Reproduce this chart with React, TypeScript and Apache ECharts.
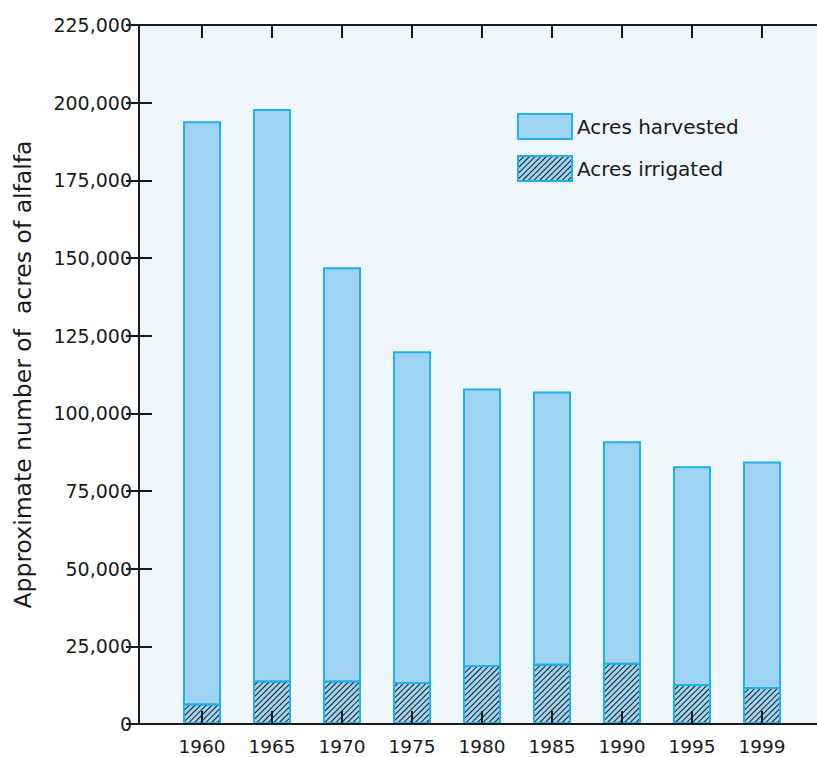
import React, { useEffect, useRef } from "react";
import * as echarts from "echarts";

const years = ["1960", "1965", "1970", "1975", "1980", "1985", "1990", "1995", "1999"];
const acresHarvested = [194000, 198000, 147000, 120000, 108000, 107000, 91000, 83000, 84500];
const acresIrrigated = [6600, 14000, 14000, 13500, 19000, 19400, 19700, 12900, 11900];
const yTicks = { min: 0, max: 225000, interval: 25000 };

const FONT = "DejaVu Sans, Liberation Sans, Arial, sans-serif";
const INK = "#1a1a1a";
const FILL = "#9FD3F3";
const EDGE = "#1DB2EA";

export default function App() {
  const ref = useRef<HTMLDivElement>(null);
  useEffect(() => {
    if (!ref.current) return;
    const chart = echarts.init(ref.current, undefined, { renderer: "svg" });
    const frameX = {
      type: "value",
      gridIndex: 0,
      min: 0,
      max: 1,
      axisLine: { show: true, onZero: false, lineStyle: { color: INK, width: 2 } },
      axisTick: { show: false },
      axisLabel: { show: false },
      splitLine: { show: false },
      z: 10,
    };
    const catX = {
      type: "category",
      gridIndex: 1,
      data: years,
      boundaryGap: true,
      axisLine: { show: false },
      axisTick: { show: true, inside: true, length: 13, alignWithLabel: true, lineStyle: { color: INK, width: 2 } },
      splitLine: { show: false },
      z: 10,
    };
    chart.setOption({
      animation: false,
      textStyle: { fontFamily: FONT },
      grid: [
        { left: 139, top: 25, right: -9, bottom: 33, show: true, backgroundColor: "#EEF5FC", borderWidth: 0, outerBoundsMode: "none" },
        { left: 167, top: 25, right: 20, bottom: 33, outerBoundsMode: "none" },
      ],
      legend: {
        left: 517,
        top: 113,
        orient: "vertical",
        itemWidth: 54,
        itemHeight: 25,
        itemGap: 15,
        padding: 0,
        icon: "rect",
        textStyle: { fontSize: 20, color: INK, fontFamily: FONT },
        data: ["Acres harvested", "Acres irrigated"],
      },
      xAxis: [
        { ...frameX, position: "bottom" },
        { ...frameX, position: "top" },
        { ...catX, position: "bottom", axisLabel: { show: true, fontSize: 18.5, color: INK, margin: 13, fontFamily: FONT } },
        { ...catX, position: "top", axisLabel: { show: false } },
      ],
      yAxis: [
        {
          type: "value",
          gridIndex: 0,
          position: "left",
          ...yTicks,
          axisLine: { show: true, lineStyle: { color: INK, width: 2 } },
          axisTick: { show: true, inside: true, length: 13, lineStyle: { color: INK, width: 2 } },
          axisLabel: {
            fontSize: 19,
            color: INK,
            margin: 7,
            fontFamily: FONT,
            formatter: (v: number) => v.toLocaleString("en-US"),
          },
          splitLine: { show: false },
          name: "Approximate number of  acres of alfalfa",
          nameLocation: "middle",
          nameGap: 104,
          nameTextStyle: { fontSize: 23.5, color: INK, fontFamily: FONT },
          z: 10,
        },
        {
          type: "value",
          gridIndex: 0,
          position: "right",
          ...yTicks,
          axisLine: { show: true, lineStyle: { color: INK, width: 2 } },
          axisTick: { show: true, inside: true, length: 13, lineStyle: { color: INK, width: 2 } },
          axisLabel: { show: false },
          splitLine: { show: false },
          z: 10,
        },
        {
          type: "value",
          gridIndex: 1,
          ...yTicks,
          show: false,
          splitLine: { show: false },
        },
      ],
      series: [
        {
          name: "Acres harvested",
          type: "bar",
          xAxisIndex: 2,
          yAxisIndex: 2,
          data: acresHarvested,
          barWidth: 38,
          barGap: "-100%",
          itemStyle: { color: FILL, borderColor: EDGE, borderWidth: 2 },
        },
        {
          name: "Acres irrigated",
          type: "bar",
          xAxisIndex: 2,
          yAxisIndex: 2,
          data: acresIrrigated,
          barWidth: 38,
          barGap: "-100%",
          itemStyle: {
            color: FILL,
            borderColor: EDGE,
            borderWidth: 2,
            decal: {
              symbol: "rect",
              symbolSize: 1,
              color: "#1a1a1a",
              dashArrayX: [1, 0],
              dashArrayY: [1, 3],
              rotation: -Math.PI / 4,
            },
          },
        },
      ],
    });
    return () => chart.dispose();
  }, []);
  return <div ref={ref} style={{ position: "absolute", left: 0, top: 0, width: 817, height: 757 }} />;
}
